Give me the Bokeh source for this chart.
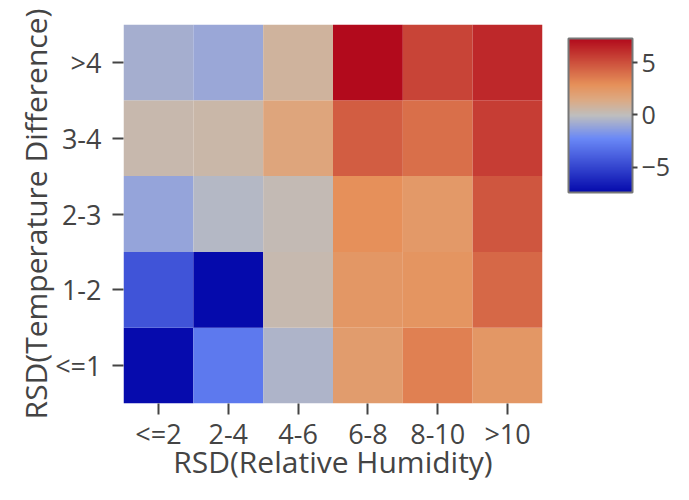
from bokeh.plotting import figure
from bokeh.models import LinearColorMapper, ColorBar, FixedTicker, ColumnDataSource
from bokeh.transform import transform
from bokeh.embed import file_html
from bokeh.resources import INLINE

# ---- data ----
x_labels = ["<=2", "2-4", "4-6", "6-8", "8-10", ">10"]
y_labels = ["<=1", "1-2", "2-3", "3-4", ">4"]

row_le1 = [-7.3, -2.9, -0.5, 2.2, 3.4, 2.5]
row_1_2 = [-4.4, -7.4, 0.3, 2.5, 2.6, 4.2]
row_2_3 = [-1.1, -0.3, 0.2, 2.9, 2.4, 4.8]
row_3_4 = [0.4, 0.5, 1.7, 4.6, 4.0, 5.6]
row_gt4 = [-0.7, -1.0, 0.8, 7.3, 5.4, 6.3]

z_min, z_max = -7.4, 7.3
x_title = "RSD(Relative Humidity)"
y_title = "RSD(Temperature Difference)"

rows = [row_le1, row_1_2, row_2_3, row_3_4, row_gt4]
xs, ys, zs = [], [], []
for yl, r in zip(y_labels, rows):
    for xl, v in zip(x_labels, r):
        xs.append(xl)
        ys.append(yl)
        zs.append(v)
src = ColumnDataSource(dict(x=xs, y=ys, z=zs))

# ---- colour scale (plotly RdBu-like stops) ----
stops = [(0.0, (5, 10, 172)), (0.35, (106, 137, 247)), (0.5, (190, 190, 190)),
         (0.6, (220, 170, 132)), (0.7, (230, 145, 90)), (1.0, (178, 10, 28))]
palette = []
N = 256
for i in range(N):
    t = i / (N - 1)
    for (t0, c0), (t1, c1) in zip(stops[:-1], stops[1:]):
        if t0 <= t <= t1:
            f = (t - t0) / (t1 - t0)
            c = tuple(int(round(a + (b - a) * f)) for a, b in zip(c0, c1))
            palette.append("#%02x%02x%02x" % c)
            break
mapper = LinearColorMapper(palette=palette, low=z_min, high=z_max)

FONT = "Open Sans"
TXT = "#444444"

p = figure(width=673, height=484, x_range=x_labels, y_range=y_labels,
           output_backend="svg", toolbar_location=None, tools="",
           min_border_left=123, min_border_right=129, min_border_top=24,
           min_border_bottom=70)
p.outline_line_color = None
p.grid.visible = False

p.rect(x="x", y="y", width=1, height=1, source=src,
       fill_color=transform("z", mapper), line_color=None)

for ax in (p.xaxis[0], p.yaxis[0]):
    ax.axis_line_color = None
    ax.major_tick_line_color = TXT
    ax.major_tick_line_width = 2
    ax.major_tick_in = 0
    ax.major_tick_out = 11
    ax.minor_tick_line_color = None
    ax.major_label_text_font = FONT
    ax.major_label_text_font_size = "27px"
    ax.major_label_text_color = TXT
    ax.axis_label_text_font = FONT
    ax.axis_label_text_font_size = "30px"
    ax.axis_label_text_font_style = "normal"
    ax.axis_label_text_color = TXT

p.xaxis.major_label_standoff = 0
p.xaxis.axis_label = x_title
p.xaxis.axis_label_standoff = -14
p.yaxis.major_label_standoff = 11
p.yaxis.axis_label = y_title
p.yaxis.axis_label_standoff = -4

cb = ColorBar(color_mapper=mapper, ticker=FixedTicker(ticks=[-5, 0, 5]),
              major_label_overrides={-5: "\u22125", 0: "0", 5: "5"},
              width=64, height=154, padding=0, location=(26, 211),
              bar_line_color="#777777", bar_line_width=2,
              border_line_color=None, background_fill_color=None,
              major_tick_line_color=TXT, major_tick_in=0, major_tick_out=5,
              major_tick_line_width=2, minor_tick_line_color=None,
              label_standoff=4,
              major_label_text_font=FONT, major_label_text_font_size="25px",
              major_label_text_color=TXT)
p.add_layout(cb, "right")

open("out.html", "w").write(file_html(p, INLINE))
